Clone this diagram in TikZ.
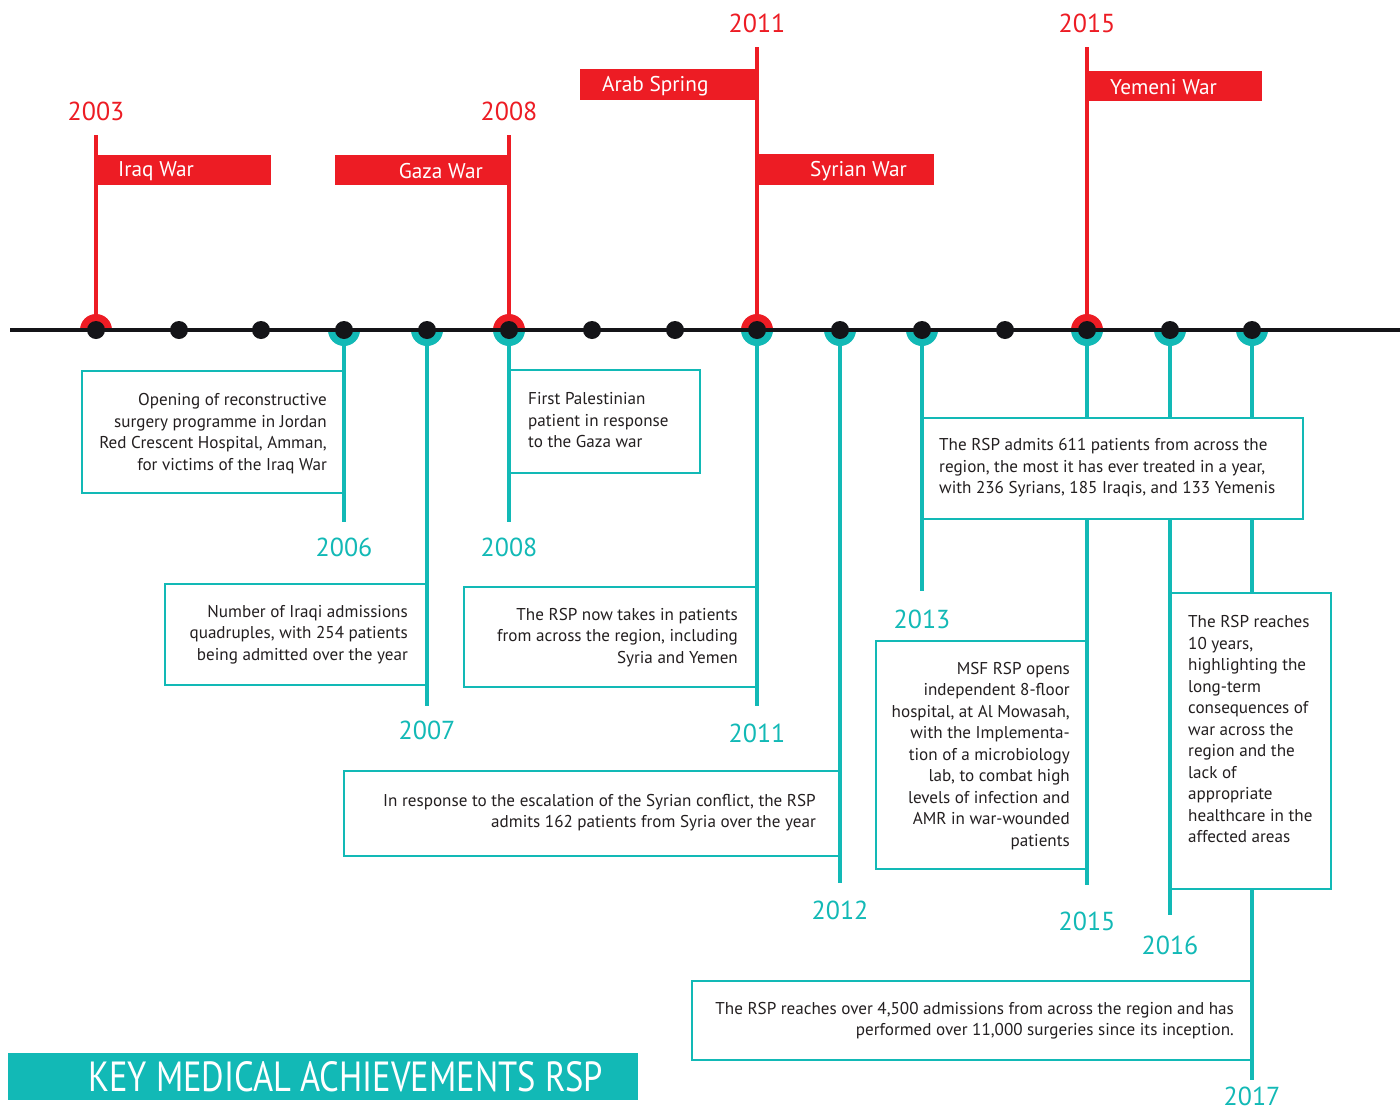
\documentclass[tikz,border=0pt]{standalone}
\usepackage{graphicx}
\usepackage{fontspec}
\setmainfont{PT Sans}
\definecolor{msfred}{RGB}{237,28,36}
\definecolor{msfteal}{RGB}{18,185,182}
\definecolor{ink}{RGB}{35,31,32}
\definecolor{dotblack}{RGB}{20,20,24}
\begin{document}
\begin{tikzpicture}[x=1pt,y=-1pt,
 box/.style={draw=msfteal, line width=2.5pt, fill=white, anchor=north west, inner sep=0pt, outer sep=0pt},
 btext/.style={text=ink, font=\fontsize{17.1}{21.5}\selectfont, inner sep=0pt},
 stem/.style={draw=msfteal, line width=4pt},
 redstem/.style={draw=msfred, line width=4pt},
 flag/.style={fill=msfred, anchor=north west, inner sep=0pt, outer sep=0pt},
 ftext/.style={text=white, font=\fontsize{21.3}{25}\selectfont, inner sep=0pt},
 ryear/.style={text=msfred, font=\fontsize{26}{30}\selectfont, inner sep=0pt},
 tyear/.style={text=msfteal, font=\fontsize{26}{30}\selectfont, inner sep=0pt},
 dot/.style={circle, fill=dotblack, minimum size=18pt, inner sep=0pt},
]
\useasboundingbox (0,0) rectangle (1400,1111);
\fill[white] (0,0) rectangle (1400,1111);

% year positions
\foreach \yr/\xx in {2003/96,2004/179,2005/261,2006/344,2007/427,2008/509,2009/592,2010/675,2011/757,2012/840,2013/922,2014/1005,2015/1087,2016/1170,2017/1252}
  {\coordinate (y\yr) at (\xx,330);}

% flags
\node[flag, minimum width=175pt, minimum height=30pt] (f1) at (96,155) {};
\node[ftext, anchor=west] (f1t) at (118,171) {Iraq War};
\node[flag, minimum width=174pt, minimum height=30pt] (f2) at (335,155) {};
\node[ftext, anchor=east] (f2t) at (483,171) {Gaza War};
\node[flag, minimum width=177pt, minimum height=31pt] (f3) at (580,69) {};
\node[ftext, anchor=west] (f3t) at (602,86) {Arab Spring};
\node[flag, minimum width=177pt, minimum height=31pt] (f4) at (757,154) {};
\node[ftext, anchor=east] (f4t) at (907,171) {Syrian War};
\node[flag, minimum width=175pt, minimum height=30pt] (f5) at (1087,71) {};
\node[ftext, anchor=west] (f5t) at (1110,87) {Yemeni War};

% red year labels
\node[ryear] (r2003) at (96,111) {2003};
\node[ryear] (r2008) at (509,111) {2008};
\node[ryear] (r2011) at (757,23) {2011};
\node[ryear] (r2015) at (1087,23) {2015};
\coordinate (rt2003) at (96,135);
\coordinate (rt2008) at (509,135);
\coordinate (rt2011) at (757,47);
\coordinate (rt2015) at (1087,47);

% boxes
\node[box, minimum width=262pt, minimum height=122pt] (b1) at (82,371) {};
\node[box, minimum width=262pt, minimum height=101pt] (b2) at (165,584) {};
\node[box, minimum width=191pt, minimum height=103pt] (b3) at (509,370) {};
\node[box, minimum width=293pt, minimum height=100pt] (b4) at (464,587) {};
\node[box, minimum width=496pt, minimum height=85pt] (b5) at (344,771) {};
\node[box, minimum width=381pt, minimum height=101pt] (b6) at (922,418) {};
\node[box, minimum width=211pt, minimum height=228pt] (b7) at (876,641) {};
\node[box, minimum width=161pt, minimum height=296pt] (b8) at (1170,593) {};
\node[box, minimum width=560pt, minimum height=79pt] (b9) at (692,981) {};

% box texts
\node[btext, align=right, anchor=east] (t1) at (327,433.5) {Opening of reconstructive\\surgery programme in Jordan\\Red Crescent Hospital, Amman,\\for victims of the Iraq War};
\node[btext, align=right, anchor=east] (t2) at (408,634.5) {Number of Iraqi admissions\\quadruples, with 254 patients\\being admitted over the year};
\node[btext, align=left, anchor=west] (t3) at (528,420.5) {First Palestinian\\patient in response\\to the Gaza war};
\node[btext, align=right, anchor=east] (t4) at (738,637.5) {The RSP now takes in patients\\from across the region, including\\Syria and Yemen};
\node[btext, align=right, anchor=east] (t5) at (816,812.5) {In response to the escalation of the Syrian conflict, the RSP\\admits 162 patients from Syria over the year};
\node[btext, align=left, anchor=west] (t6) at (939,468) {The RSP admits 611 patients from across the\\region, the most it has ever treated in a year,\\with 236 Syrians, 185 Iraqis, and 133 Yemenis};
\node[btext, align=right, anchor=east] (t7) at (1070,756) {MSF RSP opens\\independent 8-floor\\hospital, at Al Mowasah,\\with the Implementa-\\tion of a microbiology\\lab, to combat high\\levels of infection and\\AMR in war-wounded\\patients};
\node[btext, align=left, anchor=west] (t8) at (1188,729.5) {The RSP reaches\\10 years,\\highlighting the\\long-term\\consequences of\\war across the\\region and the\\lack of\\appropriate\\healthcare in the\\affected areas};
\node[btext, align=right, anchor=east] (t9) at (1234,1020.5) {The RSP reaches over 4,500 admissions from across the region and has\\performed over 11,000 surgeries since its inception.};

% teal stem ends
\coordinate (e2006) at (344,522);
\coordinate (e2007) at (427,706);
\coordinate (e2008) at (509,522);
\coordinate (e2011) at (757,706);
\coordinate (e2012) at (840,883);
\coordinate (e2013) at (922,591);
\coordinate (e2015) at (1087,885);
\coordinate (e2016) at (1170,915);
\coordinate (e2017) at (1252,1080);

% teal stems
\draw[stem] (y2006) -- (e2006);
\draw[stem] (y2007) -- (e2007);
\draw[stem] (y2008) -- (e2008);
\draw[stem] (y2011) -- (e2011);
\draw[stem] (y2012) -- (e2012);
\draw[stem] (y2013) -- (e2013);
\draw[stem] (y2015) -- (b6.north -| y2015);
\draw[stem] (b6.south -| y2015) -- (e2015);
\draw[stem] (y2016) -- (b6.north -| y2016);
\draw[stem] (b6.south -| y2016) -- (e2016);
\draw[stem] (y2017) -- (b6.north -| y2017);
\draw[stem] (b6.south -| y2017) -- (b8.north -| y2017);
\draw[stem] (b8.south -| y2017) -- (e2017);

% red stems
\draw[redstem] (rt2003) -- (y2003);
\draw[redstem] (rt2008) -- (y2008);
\draw[redstem] (rt2011) -- (y2011);
\draw[redstem] (rt2015) -- (y2015);

% teal year labels
\node[tyear] (l2006) at (344,547) {2006};
\node[tyear] (l2007) at (427,730) {2007};
\node[tyear] (l2008) at (509,547) {2008};
\node[tyear] (l2011) at (757,733) {2011};
\node[tyear] (l2012) at (840,910) {2012};
\node[tyear] (l2013) at (922,619) {2013};
\node[tyear] (l2015) at (1087,921) {2015};
\node[tyear] (l2016) at (1170,945) {2016};
\node[tyear] (l2017) at (1252,1096) {2017};

% half rings
\foreach \yr in {2003,2008,2011,2015}
  {\fill[msfred] (y\yr) ++(-16pt,0pt) arc[start angle=180,end angle=0,radius=16pt] -- cycle;}
\foreach \yr in {2006,2007,2008,2011,2012,2013,2015,2016,2017}
  {\fill[msfteal] (y\yr) ++(-16pt,0pt) arc[start angle=180,end angle=360,radius=16pt] -- cycle;}

% timeline
\coordinate (tlA) at (10,330);
\coordinate (tlB) at (1400,330);
\draw[dotblack, line width=3.5pt] (tlA) -- (tlB);

% dots
\foreach \yr in {2003,2004,2005,2006,2007,2008,2009,2010,2011,2012,2013,2014,2015,2016,2017}
  {\node[dot] (d\yr) at (y\yr) {};}

% title
\node[fill=msfteal, minimum width=630pt, minimum height=47pt, anchor=north west, inner sep=0pt] (tbar) at (8,1053) {};
\node[anchor=west, text=white, inner sep=0pt] (ttext) at (88,1077) {\resizebox{515pt}{30pt}{\fontsize{44}{50}\selectfont KEY MEDICAL ACHIEVEMENTS RSP}};
\end{tikzpicture}
\end{document}
